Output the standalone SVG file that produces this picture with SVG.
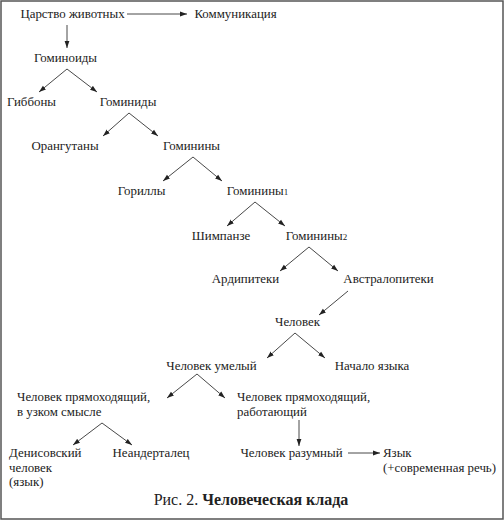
<svg xmlns="http://www.w3.org/2000/svg" width="504" height="521" viewBox="0 0 504 521">
<style>
text{font-family:"Liberation Serif","DejaVu Serif",serif;font-size:12.9px;fill:#222}
.m{text-anchor:middle}
.sub{font-size:9px}
.cap{font-size:16px}
.b{font-weight:bold}
#connectors line{stroke:#333;stroke-width:0.9;marker-end:url(#ah)}
</style>
<defs>
<marker id="ah" markerUnits="userSpaceOnUse" markerWidth="8" markerHeight="6" refX="7" refY="3" orient="auto">
<path d="M0,0.6 L7,3 L0,5.4 Z" fill="#222"/>
</marker>
</defs>
<rect x="1" y="1" width="502" height="518" fill="#fff" stroke="#555" stroke-width="1.5"/>
<g id="connectors">
<line x1="127" y1="14" x2="187" y2="14"/>
<line x1="67" y1="25" x2="67" y2="48"/>
<line x1="67" y1="69" x2="39" y2="92"/>
<line x1="67" y1="69" x2="97" y2="92"/>
<line x1="129" y1="113" x2="103" y2="136"/>
<line x1="129" y1="113" x2="158" y2="136"/>
<line x1="193" y1="157" x2="163" y2="181"/>
<line x1="193" y1="157" x2="222" y2="181"/>
<line x1="255" y1="202" x2="227" y2="226"/>
<line x1="255" y1="202" x2="285" y2="226"/>
<line x1="309" y1="247" x2="280" y2="271"/>
<line x1="309" y1="247" x2="338" y2="271"/>
<line x1="348" y1="291" x2="319" y2="315"/>
<line x1="295" y1="333" x2="267" y2="358"/>
<line x1="295" y1="333" x2="325" y2="358"/>
<line x1="197" y1="374" x2="167" y2="398"/>
<line x1="197" y1="374" x2="225" y2="398"/>
<line x1="102" y1="423" x2="73" y2="445"/>
<line x1="102" y1="423" x2="132" y2="445"/>
<line x1="299" y1="420" x2="299" y2="446"/>
<line x1="348" y1="453" x2="380" y2="453"/>
</g>
<g id="n-animals"><text class="m" x="72.5" y="18">Царство животных</text></g>
<g id="n-comm"><text class="m" x="235.5" y="18">Коммуникация</text></g>
<g id="n-hominoids"><text class="m" x="65.5" y="62">Гоминоиды</text></g>
<g id="n-gibbons"><text class="m" x="31.5" y="106">Гиббоны</text></g>
<g id="n-hominids"><text class="m" x="128" y="106">Гоминиды</text></g>
<g id="n-orang"><text class="m" x="65" y="150">Орангутаны</text></g>
<g id="n-hominines"><text class="m" x="191.5" y="150">Гоминины</text></g>
<g id="n-gorillas"><text class="m" x="141.5" y="195">Гориллы</text></g>
<g id="n-hominines1"><text class="m" x="257.5" y="195">Гоминины<tspan class="sub">1</tspan></text></g>
<g id="n-chimp"><text class="m" x="221" y="240">Шимпанзе</text></g>
<g id="n-hominines2"><text class="m" x="316.5" y="240">Гоминины<tspan class="sub">2</tspan></text></g>
<g id="n-ardi"><text class="m" x="245.5" y="283">Ардипитеки</text></g>
<g id="n-austr"><text class="m" x="388.5" y="283">Австралопитеки</text></g>
<g id="n-homo"><text class="m" x="297.5" y="326">Человек</text></g>
<g id="n-habilis"><text class="m" x="211.5" y="370">Человек умелый</text></g>
<g id="n-lang-start"><text class="m" x="372" y="370">Начало языка</text></g>
<g id="n-erectus"><text x="17" y="401">Человек прямоходящий,</text><text x="17" y="416">в узком смысле</text></g>
<g id="n-ergaster"><text x="237" y="401">Человек прямоходящий,</text><text x="237" y="416">работающий</text></g>
<g id="n-denisova"><text x="9" y="457">Денисовский</text><text x="9" y="472">человек</text><text x="9" y="486">(язык)</text></g>
<g id="n-neander"><text class="m" x="151" y="457">Неандерталец</text></g>
<g id="n-sapiens"><text class="m" x="291.5" y="457">Человек разумный</text></g>
<g id="n-language"><text x="383" y="457">Язык</text><text x="383" y="472">(+современная речь)</text></g>
<text class="cap m" x="251" y="505">Рис. 2. <tspan class="b">Человеческая клада</tspan></text>
</svg>
